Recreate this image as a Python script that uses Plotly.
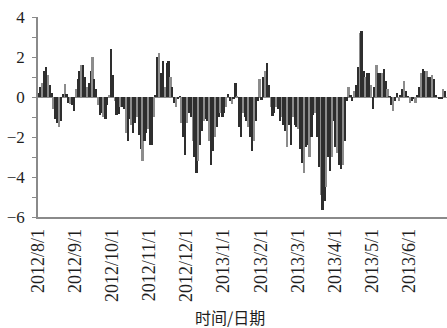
import plotly.graph_objects as go

# Daily deviation values, 20 sampled trading days per month
aug_2012 = [0.2, 0.5, 0.7, 1.3, 1.5, 1.1, 0.6, 0.2, -0.6, -1.1, -1.3, -1.5, -1.2, 0.15, 0.65, 0.15, -0.3, -0.35, -0.4, -0.7]
sep_2012 = [0.4, 0.9, 1.3, 1.6, 1.6, 1.0, 0.5, 0.7, 1.3, 2.0, 0.9, 0.4, -0.4, -0.9, -0.8, -1.0, -1.1, -0.4, 0.1, 2.4]
oct_2012 = [1.1, -0.2, -0.9, -0.85, -0.5, -0.5, -0.6, -1.8, -2.2, -1.1, -1.4, -1.8, -1.3, -1.0, -1.9, -2.6, -3.2, -2.2, -1.8, -1.6]
nov_2012 = [-2.4, -2.4, -1.0, 0.1, 2.0, 2.2, 1.2, 1.8, 0.5, 1.7, 1.8, 1.0, 0.5, -0.3, -0.5, -0.1, 0.05, -1.3, -2.0, -2.9]
dec_2012 = [-1.3, -0.8, -1.0, -2.2, -3.0, -3.8, -3.2, -2.4, -1.7, -1.2, -1.1, -1.2, -2.2, -3.4, -2.7, -2.0, -1.5, -1.0, -0.8, -1.0]
jan_2013 = [-0.8, -0.5, 0.15, -0.2, -0.35, -0.1, 0.7, 0.05, -1.5, -2.0, -0.8, -1.0, -1.2, -1.5, -2.0, -2.7, -2.2, -1.2, -0.2, 0.9]
feb_2013 = [-0.15, 1.0, 1.3, 1.7, 0.6, -0.5, -0.95, -0.8, -0.5, -0.6, -1.2, -1.0, -1.4, -1.7, -2.5, -1.4, -2.4, -1.0, -1.4, -1.5]
mar_2013 = [-1.6, -2.6, -3.3, -3.8, -2.5, -2.4, -3.0, -2.0, -0.9, -0.8, -2.0, -3.5, -4.9, -5.65, -5.2, -4.5, -3.0, -3.7, -3.0, -1.2]
apr_2013 = [-2.5, -2.8, -3.4, -3.6, -3.4, -2.2, -0.2, 0.5, 0.1, -0.2, 0.3, 0.6, 1.5, 3.2, 3.3, 1.3, 1.0, 1.2, 1.2, 0.6]
may_2013 = [-0.6, 0.5, 1.6, 1.2, 1.2, 1.2, 1.4, 0.8, 0.4, 0.05, -0.4, -0.7, -0.2, 0.2, -0.2, 0.1, 0.4, 0.8, 0.3, 0.05]
jun_2013 = [-0.3, -0.2, -0.1, -0.3, 0.1, 0.5, 1.2, 1.4, 1.3, 1.3, 1.0, 1.0, 1.1, 0.9, 0.1, -0.05, -0.1, -0.1, 0.4, 0.3]

months = [aug_2012, sep_2012, oct_2012, nov_2012, dec_2012, jan_2013,
          feb_2013, mar_2013, apr_2013, may_2013, jun_2013]
month_labels = ["2012/8/1", "2012/9/1", "2012/10/1", "2012/11/1", "2012/12/1",
                "2013/1/1", "2013/2/1", "2013/3/1", "2013/4/1", "2013/5/1", "2013/6/1"]
y_ticks = [4, 2, 0, -2, -4, -6]

# Position each day inside its month slot (one axis unit per month)
x_pos, y_val = [], []
for m, vals in enumerate(months):
    n = len(vals)
    for i, v in enumerate(vals):
        x_pos.append(m + (i + 0.5) / n)
        y_val.append(v)

DARK = "#2e2e2e"
GRAY = "#8c8c8c"
bar_colors = [GRAY if k % 3 == 2 else DARK for k in range(len(y_val))]

fig = go.Figure(go.Bar(
    x=x_pos, y=y_val, width=0.048,
    marker=dict(color=bar_colors, line=dict(width=0)),
    hoverinfo="skip",
))

serif = "Liberation Serif"
fig.update_layout(
    width=447, height=328,
    margin=dict(l=38, r=0, t=17, b=111),
    paper_bgcolor="white", plot_bgcolor="white",
    showlegend=False, bargap=0,
    font=dict(family=serif, color="#1e1e1e"),
)
fig.update_xaxes(
    range=[0, 11.02], tickvals=list(range(len(month_labels))), ticktext=month_labels,
    tickangle=-90, tickfont=dict(family=serif, size=18, color="#1e1e1e"),
    showgrid=False, zeroline=False, showline=True, linecolor="#8a8a8a", linewidth=1.5,
    ticks="", ticklabelstandoff=3,
)
fig.update_yaxes(
    range=[-6, 4], tickvals=y_ticks, tickfont=dict(family=serif, size=17, color="#1e1e1e"),
    showgrid=False, zeroline=True, zerolinecolor="#8a8a8a", zerolinewidth=1.2,
    showline=True, linecolor="#8a8a8a", linewidth=1.5,
    ticks="outside", ticklen=4, tickcolor="#8a8a8a",
    minor=dict(dtick=1, ticks="outside", ticklen=4, tickcolor="#8a8a8a"),
    ticklabelstandoff=4,
)
fig.add_annotation(
    text="时间/日期", xref="paper", yref="paper", x=0.469, y=-0.5,
    xanchor="center", yanchor="middle", showarrow=False,
    font=dict(family="Noto Sans CJK SC", size=16, color="#1e1e1e"),
)

fig.write_html("out.html")
